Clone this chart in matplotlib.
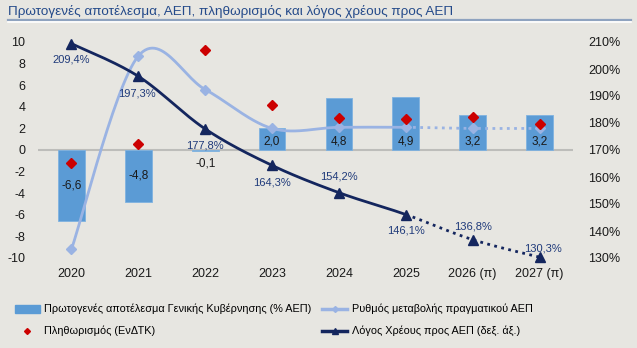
import matplotlib
matplotlib.use("Agg")
import matplotlib.pyplot as plt
import numpy as np
from matplotlib.lines import Line2D
from matplotlib.patches import Patch

plt.rcParams['font.family'] = ['Liberation Sans', 'DejaVu Sans']
plt.rcParams['axes.unicode_minus'] = False

# data
years = ['2020', '2021', '2022', '2023', '2024', '2025', '2026 (π)', '2027 (π)']
primary_balance = [-6.6, -4.8, -0.1, 2.0, 4.8, 4.9, 3.2, 3.2]
gdp_growth = [-9.2, 8.7, 5.6, 2.0, 2.1, 2.1, 2.0, 2.0]
inflation = [-1.2, 0.6, 9.3, 4.2, 3.0, 2.9, 3.1, 2.4]
debt_ratio = [209.4, 197.3, 177.8, 164.3, 154.2, 146.1, 136.8, 130.3]
n_actual = 6  # ως το 2025 πραγματικά, μετά προβλέψεις

# label offsets (pixels) for the debt ratio
debt_offsets = [(0, -16), (-1, -17), (0, -17), (0, -17), (0, 16), (0, -16), (0, 13), (3, 9)]

bg = '#E7E6E1'
bar_col = '#5B9BD5'
gdp_col = '#9AB3E3'
navy = '#14265E'
red = '#CC0000'


def smooth(xs, ys, n=30):
    # excel-like smoothed line (catmull-rom -> bezier)
    pts = np.column_stack([xs, ys]).astype(float)
    out = []
    for i in range(len(pts) - 1):
        p0 = pts[max(i - 1, 0)]
        p1 = pts[i]
        p2 = pts[i + 1]
        p3 = pts[min(i + 2, len(pts) - 1)]
        c1 = p1 + (p2 - p0) / 6
        c2 = p2 - (p3 - p1) / 6
        t = np.linspace(0, 1, n)[:, None]
        seg = (1 - t) ** 3 * p1 + 3 * (1 - t) ** 2 * t * c1 + 3 * (1 - t) * t ** 2 * c2 + t ** 3 * p2
        out.append(seg if i == 0 else seg[1:])
    return np.vstack(out)


fig = plt.figure(figsize=(6.37, 3.48), dpi=100)
fig.patch.set_facecolor(bg)
W, H = 637, 348
ax = fig.add_axes([38 / W, 1 - 258 / H, (573 - 38) / W, (258 - 42) / H])
ax.set_facecolor(bg)
ax2 = ax.twinx()

x = np.arange(len(years))

# bars
ax.bar(x, primary_balance, width=0.4, color=bar_col, edgecolor='#7FB2E0', linewidth=0.6, zorder=2)
ax.axhline(0, color='#BDBDBA', lw=1.5, zorder=1)
for xi, v in zip(x, primary_balance):
    s = f"{v:.1f}".replace('.', ',')
    if v < -1:
        ax.text(xi, v / 2, s, ha='center', va='center', fontsize=8.5, color='#1A1A1A', zorder=6)
    elif v < 0:
        ax.annotate(s, (xi, 0), xytext=(0, -13), textcoords='offset pixels',
                    ha='center', va='center', fontsize=8.5, color='#1A1A1A', zorder=6)
    else:
        ax.annotate(s, (xi, 0), xytext=(0, 9), textcoords='offset pixels',
                    ha='center', va='center', fontsize=8.5, color='#1A1A1A', zorder=6)

# real gdp growth
c = smooth(x, gdp_growth)
k = (n_actual - 1) * 29
ax.plot(c[:k + 1, 0], c[:k + 1, 1], color=gdp_col, lw=2, zorder=3, solid_capstyle='round')
ax.plot(c[k:, 0], c[k:, 1], color=gdp_col, lw=2, ls=(0, (1, 1.6)), zorder=3)
ax.plot(x, gdp_growth, ls='none', marker='D', ms=5, color=gdp_col, mec=gdp_col, zorder=3,
        clip_on=False)

# debt ratio on the right axis (130..210 <-> -10..10)
def to_left(v):
    return (np.asarray(v) - 170) / 4

d = smooth(x, to_left(debt_ratio))
ax.plot(d[:k + 1, 0], d[:k + 1, 1], color=navy, lw=2, zorder=4)
ax.plot(d[k:, 0], d[k:, 1], color=navy, lw=2, ls=(0, (1, 1.6)), zorder=4, clip_on=False)
ax.plot(x, to_left(debt_ratio), ls='none', marker='^', ms=7, color=navy, zorder=4, clip_on=False)
for xi, v, off in zip(x, debt_ratio, debt_offsets):
    ax.annotate(f"{v:.1f}%".replace('.', ','), (xi, to_left(v)), xytext=off,
                textcoords='offset pixels', ha='center', va='center', fontsize=8,
                color='#1F3A7A', zorder=6)

# inflation
ax.plot(x, inflation, ls='none', marker='D', ms=5, color=red, zorder=5)

ax.set_xlim(-0.5, len(years) - 0.5)
ax.set_ylim(-10, 10)
ax.set_yticks(np.arange(-10, 11, 2))
ax.set_xticks(x)
ax.set_xticklabels(years)
ax2.set_ylim(130, 210)
ax2.set_yticks(np.arange(130, 211, 10))
ax2.set_yticklabels([f"{t}%" for t in range(130, 211, 10)])
for a in (ax, ax2):
    for sp in a.spines.values():
        sp.set_visible(False)
    a.tick_params(length=0, labelsize=9, colors='#1A1A1A')
ax.tick_params(axis='y', pad=9)
ax.tick_params(axis='x', pad=7)
ax2.tick_params(axis='y', pad=11)

# title + underline
fig.text(8 / W, 1 - 12 / H, 'Πρωτογενές αποτέλεσμα, ΑΕΠ, πληθωρισμός και λόγος χρέους προς ΑΕΠ',
         fontsize=9.7, color='#244A8A', ha='left', va='center')
fig.add_artist(Line2D([8 / W, 631 / W], [1 - 20 / H, 1 - 20 / H], color='#8FA3BF', lw=1.6))
fig.add_artist(Line2D([8 / W, 631 / W], [1 - 22 / H, 1 - 22 / H], color='white', lw=1.2))

handles = [
    Patch(facecolor=bar_col, edgecolor=bar_col),
    Line2D([], [], ls='none', marker='D', ms=3, color=red),
    Line2D([], [], color=gdp_col, lw=2.5, marker='D', ms=3),
    Line2D([], [], color=navy, lw=2.5, marker='^', ms=4),
]
labels = ['Πρωτογενές αποτέλεσμα Γενικής Κυβέρνησης (% ΑΕΠ)', 'Πληθωρισμός (ΕνΔΤΚ)',
          'Ρυθμός μεταβολής πραγματικού ΑΕΠ', 'Λόγος Χρέους προς ΑΕΠ (δεξ. άξ.)']
fig.legend(handles, labels, ncol=2, loc='upper left', bbox_to_anchor=(15 / W, 1 - 304 / H),
           frameon=False, fontsize=7.8, handlelength=2.3, handletextpad=0.4,
           columnspacing=1.0, labelspacing=1.05, borderpad=0, borderaxespad=0)

fig.savefig('out.png', dpi=100, facecolor=bg)
